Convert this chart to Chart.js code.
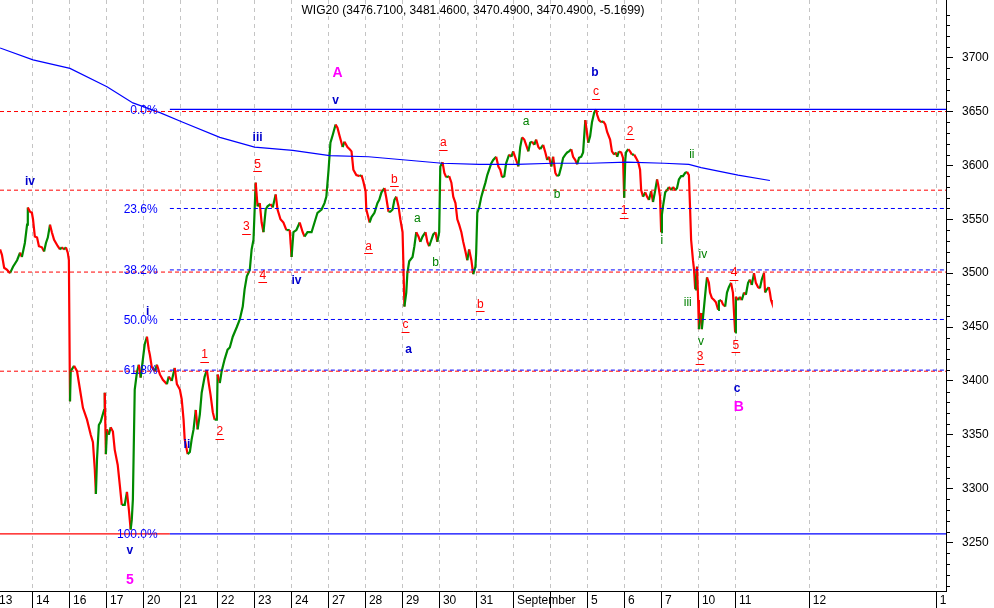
<!DOCTYPE html>
<html><head><meta charset="utf-8">
<script src="https://cdn.jsdelivr.net/npm/chart.js@4.4.0/dist/chart.umd.min.js"></script>
<style>html,body{margin:0;padding:0;background:#fff;overflow:hidden}#wrap{width:994px;height:608px;position:relative}</style>
</head><body><div id="wrap"><canvas id="c" width="994" height="608"></canvas></div>
<script>
// ---- DATA ----
const chartTitle = 'WIG20 (3476.7100, 3481.4600, 3470.4900, 3470.4900, -5.1699)';
// trading-day index (0 = 13 Aug) of each intraday sample
const times = [
0.11,0.16,0.22,0.30,0.38,0.46,0.57,0.65,0.70,0.78,0.84,0.86,0.92,0.97,1.00,
1.05,1.11,1.16,1.24,1.30,1.35,1.40,1.46,1.51,1.57,1.62,1.67,1.73,1.78,1.84,1.89,1.94,1.97,
2.00,2.02,2.11,2.19,2.27,2.35,2.46,2.56,2.62,2.67,2.70,2.73,2.78,2.83,2.92,2.94,2.97,
3.00,3.05,3.10,3.16,3.21,3.29,3.35,3.40,3.48,3.54,3.59,3.64,3.67,3.70,3.75,3.81,3.86,3.91,3.97,
4.02,4.08,4.13,4.16,4.21,4.29,4.35,4.43,4.51,4.62,4.67,4.75,4.83,4.89,4.97,
5.02,5.07,5.10,5.18,5.24,5.29,5.34,5.40,5.45,5.51,5.56,5.64,5.70,5.75,5.80,5.86,5.91,5.97,5.99,
6.05,6.10,6.18,6.26,6.32,6.40,6.51,6.59,6.67,6.72,6.78,6.86,6.91,6.96,
7.02,7.07,7.13,7.18,7.23,7.29,7.34,7.42,7.48,7.56,7.61,7.69,7.77,7.85,7.94,7.99,
8.04,8.12,8.21,8.29,8.34,8.42,8.53,8.61,8.69,8.80,8.88,8.93,8.99,
9.04,9.10,9.18,9.23,9.29,9.37,9.42,9.50,9.56,9.61,9.66,9.74,9.83,9.88,9.93,9.99,
10.01,10.10,10.15,10.23,10.31,10.36,10.42,10.50,10.55,10.61,10.66,10.72,10.77,10.82,10.88,10.93,10.99,
11.01,11.04,11.09,11.12,11.17,11.26,11.31,11.36,11.42,11.47,11.53,11.61,11.66,11.71,11.77,11.82,11.88,11.93,11.98,
12.01,12.07,12.12,12.17,12.25,12.31,12.36,12.42,12.47,12.52,12.58,12.63,12.69,12.74,12.79,12.85,12.90,12.96,12.98,
13.01,13.06,13.12,13.17,13.23,13.28,13.33,13.39,13.44,13.52,13.58,13.63,13.68,13.74,13.79,13.87,13.93,13.98,
14.06,14.12,14.17,14.22,14.28,14.33,14.39,14.44,14.49,14.55,14.60,14.66,14.71,14.79,14.85,14.90,14.95,
15.01,15.06,15.12,15.17,15.22,15.28,15.33,15.39,15.44,15.49,15.55,15.60,15.66,15.71,15.76,15.82,15.87,15.93,
16.01,16.06,16.11,16.17,16.22,16.25,16.30,16.36,16.41,16.47,16.52,16.60,16.65,16.71,16.76,16.79,16.84,16.90,16.95,16.98,
17.01,17.03,17.09,17.14,17.19,17.25,17.30,17.36,17.41,17.44,17.49,17.55,17.60,17.65,17.71,17.76,17.82,17.87,17.90,17.95,17.98,
18.00,18.03,18.09,18.14,18.19,18.25,18.30,18.36,18.41,18.46,18.52,18.57,18.63,18.68,18.73,18.76,18.79,18.84,18.87,18.90,18.92,18.95,18.98,
19.00,19.06,19.08,19.14,19.19,19.22,19.27,19.30,19.35,19.41,19.46,19.52,19.54,19.60,19.65,19.71,19.76,19.81,19.87,19.92,19.95,19.98,
20.00,20.06,20.11,20.16,20.22,20.27,20.33,20.38,20.43,20.49,20.54,20.60,20.65,20.70,20.76,20.79,20.84,20.89,20.92,20.95,20.97
];
const prices = [
3522,3517,3505,3503,3500,3506,3512,3519,3515,3528,3545,3561,3557,3556,3550,
3534,3533,3525,3524,3520,3528,3533,3545,3538,3531,3528,3525,3522,3524,3522,3524,3519,3512,
3381,3409,3414,3409,3392,3375,3364,3350,3343,3318,3295,3327,3359,3362,3373,3389,3332,
3355,3350,3357,3353,3336,3322,3302,3285,3285,3297,3281,3262,3271,3290,3392,3408,3415,3403,3420,
3434,3441,3429,3424,3413,3409,3415,3406,3401,3397,3404,3400,3412,3397,3392,
3383,3364,3346,3332,3334,3346,3355,3373,3355,3369,3389,3404,3410,3398,3387,3371,3364,3364,3406,
3398,3409,3420,3429,3431,3441,3450,3457,3469,3485,3497,3503,3522,3531,
3584,3562,3565,3547,3538,3559,3562,3564,3561,3573,3559,3550,3547,3540,3540,3515,
3538,3540,3547,3538,3534,3538,3538,3547,3556,3559,3565,3571,3596,
3621,3628,3638,3635,3627,3617,3622,3617,3615,3613,3596,3591,3590,3591,3585,3576,
3559,3547,3552,3556,3565,3568,3575,3579,3570,3557,3557,3559,3568,3571,3562,3550,3538,
3512,3469,3482,3500,3511,3515,3525,3538,3534,3529,3534,3538,3529,3525,3531,3536,3538,3529,3538,
3599,3603,3593,3589,3590,3584,3571,3565,3550,3545,3538,3529,3520,3512,3522,3512,3499,3506,3519,
3556,3561,3571,3577,3584,3591,3596,3602,3605,3608,3599,3596,3589,3590,3602,3610,3608,3613,
3605,3599,3617,3626,3624,3619,3613,3621,3622,3619,3624,3617,3615,3619,3612,3605,3608,
3599,3608,3593,3590,3591,3599,3607,3610,3612,3613,3615,3608,3605,3601,3607,3608,3612,3642,
3621,3627,3640,3649,3652,3647,3642,3640,3641,3638,3631,3624,3613,3610,3612,3608,3613,3612,3607,3570,
3605,3612,3615,3613,3610,3610,3607,3603,3596,3577,3571,3575,3571,3568,3576,3566,3577,3587,3582,3571,3538,
3554,3562,3575,3577,3580,3577,3580,3577,3579,3587,3590,3590,3593,3594,3591,3562,3531,3512,3503,3485,3494,3506,3475,
3448,3463,3448,3469,3487,3496,3491,3482,3477,3475,3473,3466,3474,3475,3471,3469,3482,3487,3491,3482,3463,3445,
3478,3475,3478,3475,3482,3480,3491,3494,3489,3500,3491,3487,3486,3494,3500,3482,3485,3487,3482,3475,3473
];
// moving average
const maTimes  = [0.11,1.00,2.00,3.00,3.70,4.43,5.05,6.05,6.99,8.02,9.02,10.07,11.07,12.06,13.06,14.06,15.06,16.06,17.06,18.06,18.73,19.06,20.06,20.92];
const maValues = [3709,3698,3690,3673,3658,3649,3640,3626,3617,3614,3609,3608,3605,3602,3601,3601,3602,3602,3603,3602,3601,3598,3591,3586];
// x-axis day ticks
const dayTickPos    = [0,1,2,3,4,5,6,7,8,9,10,11,12,13,14,15,16,17,18,19,20,22,25.43];
const dayTickLabels = ['13','14','16','17','20','21','22','23','24','27','28','29','30','31','September','','5','6','7','10','11','12','1'];
const yTickValues = [3250,3300,3350,3400,3450,3500,3550,3600,3650,3700];
// Fibonacci retracement
const fibLabels = ['0.0%','23.6%','38.2%','50.0%','61.8%','100.0%'];
const fibValues = [3652,3560,3503,3457,3410,3258];
const fibStartT = 4.70;
const fibLabelT = 4.37;
const redDashLevels = [3650,3577,3501,3409];
const redSolidLevel = 3258;
// Elliott wave annotations
const waveText  = ['iv','i','ii','iii','iv','v','a','b','c','v','A','B','5',
  '1','2','3','4','5','a','b','c','a','b','c','1','2','3','4','5',
  'a','b','a','b','i','ii','iii','iv','v'];
const waveT = [0.92,4.10,5.16,7.07,8.12,9.18,11.15,16.19,20.03,3.62,9.23,20.08,3.62,
  5.64,6.05,6.77,7.21,7.07,10.07,10.77,11.07,12.09,13.09,16.22,16.98,17.14,19.03,19.95,20.00,
  11.39,11.88,14.33,15.17,18.00,18.81,18.70,19.11,19.06];
const waveV = [3585,3464,3341,3626,3493,3660,3429,3686,3393,3242,3686,3376,3215,
  3424,3353,3543,3498,3601,3525,3587,3452,3621,3471,3668,3558,3631,3422,3500,3433,
  3551,3510,3641,3573,3530,3610,3473,3517,3436];
const waveKind = ['blue','blue','blue','blue','blue','blue','blue','blue','blue','blue','mag','mag','mag',
  'red','red','red','red','red','red','red','red','red','red','red','red','red','red','red','red',
  'green','green','green','green','green','green','green','green','green'];

// ---- STYLE ----
const UP = '#008a00', DOWN = '#ff0000', BLUE = '#0000ff';
const X_MIN = 0.108, X_MAX = 25.68;

const datasets = [];
fibValues.forEach((v,i)=>{
  const solid = (i===0 || i===fibValues.length-1);
  datasets.push({data:[{x:fibStartT,y:v},{x:X_MAX,y:v}], borderColor:BLUE, borderWidth:solid?1.3:1, borderDash:solid?[]:[4,3], pointRadius:0});
});
redDashLevels.forEach(v=>{
  datasets.push({data:[{x:X_MIN,y:v},{x:X_MAX,y:v}], borderColor:DOWN, borderWidth:1, borderDash:[4,3], pointRadius:0});
});
datasets.push({data:[{x:X_MIN,y:redSolidLevel},{x:fibStartT,y:redSolidLevel}], borderColor:DOWN, borderWidth:1.3, pointRadius:0});
datasets.push({data:maTimes.map((t,i)=>({x:t,y:maValues[i]})), borderColor:BLUE, borderWidth:1.2, pointRadius:0, tension:0});
datasets.push({data:times.map((t,i)=>({x:t,y:prices[i]})), borderWidth:2.2, pointRadius:0, tension:0,
  borderColor:UP,
  segment:{borderColor:ctx=> ctx.p1.parsed.y >= ctx.p0.parsed.y ? UP : DOWN}});

const decor = {
  id:'decor',
  afterDraw(chart){
    const ctx = chart.ctx, xs = chart.scales.x, ys = chart.scales.y, ca = chart.chartArea;
    ctx.save();
    // minor ticks on right axis
    ctx.strokeStyle = '#000'; ctx.lineWidth = 1;
    for (let v = 3210; v <= 3750; v += 10) {
      if (v % 50 === 0) continue;
      const y = Math.round(ys.getPixelForValue(v)) + 0.5;
      ctx.beginPath(); ctx.moveTo(ca.right, y); ctx.lineTo(ca.right + 4, y); ctx.stroke();
    }
    // title
    ctx.fillStyle = '#000';
    ctx.font = '12px "Liberation Sans Narrow", "Arial Narrow", "Liberation Sans", sans-serif';
    ctx.textAlign = 'center'; ctx.textBaseline = 'middle';
    ctx.fillText(chartTitle, (ca.left + ca.right) / 2, 11);
    // fib labels
    ctx.fillStyle = BLUE; ctx.font = '12px "Liberation Sans", Arial, sans-serif';
    ctx.textAlign = 'right';
    fibLabels.forEach((s,i)=>{
      ctx.fillText(s, xs.getPixelForValue(fibLabelT), ys.getPixelForValue(fibValues[i]) + 1);
    });
    // wave labels
    ctx.textAlign = 'center';
    waveText.forEach((s,i)=>{
      const k = waveKind[i];
      const x = xs.getPixelForValue(waveT[i]), y = ys.getPixelForValue(waveV[i]);
      if (k === 'blue') { ctx.fillStyle = '#0000cc'; ctx.font = 'bold 12px "Liberation Sans", Arial, sans-serif'; }
      else if (k === 'mag') { ctx.fillStyle = '#ff00ff'; ctx.font = 'bold 14px "Liberation Sans", Arial, sans-serif'; }
      else if (k === 'red') { ctx.fillStyle = '#ff0000'; ctx.font = '12px "Liberation Sans", Arial, sans-serif'; }
      else { ctx.fillStyle = '#008000'; ctx.font = '12px "Liberation Sans", Arial, sans-serif'; }
      ctx.fillText(s, x, y);
      if (k === 'red') {
        const w = ctx.measureText(s).width + 2;
        ctx.strokeStyle = '#ff0000'; ctx.lineWidth = 1;
        ctx.beginPath(); ctx.moveTo(x - w/2, Math.round(y + 7) + 0.5); ctx.lineTo(x + w/2, Math.round(y + 7) + 0.5); ctx.stroke();
      }
    });
    ctx.restore();
  }
};

new Chart(document.getElementById('c'), {
  type:'line',
  data:{datasets},
  plugins:[decor],
  options:{
    responsive:false, animation:false, devicePixelRatio:1,
    layout:{padding:0},
    plugins:{legend:{display:false}, tooltip:{enabled:false}, title:{display:false}},
    scales:{
      x:{type:'linear', position:'bottom', min:X_MIN, max:X_MAX,
        afterBuildTicks:(s)=>{ s.ticks = dayTickPos.map(v=>({value:v})); },
        afterFit:(s)=>{ s.height = 17; s.paddingLeft = 0; s.paddingRight = 0; s.paddingTop = 0; s.paddingBottom = 0; },
        grid:{display:true, drawOnChartArea:true, color:'#c4c4c4', lineWidth:1, drawTicks:true, tickLength:17, tickColor:'#000', tickWidth:1, tickBorderDash:[]},
        border:{display:true, color:'#000', width:1, dash:[4,4]},
        ticks:{autoSkip:false, maxRotation:0, minRotation:0, align:'start', labelOffset:3, padding:-15, color:'#000',
          font:{family:'"Liberation Sans", Arial, sans-serif', size:12},
          callback:(v,i)=>dayTickLabels[i]}
      },
      y:{type:'linear', position:'right', min:3205, max:3753.5,
        afterBuildTicks:(s)=>{ s.ticks = yTickValues.map(v=>({value:v})); },
        afterFit:(s)=>{ s.width = 48; s.paddingLeft = 0; s.paddingRight = 0; s.paddingTop = 0; s.paddingBottom = 0; },
        grid:{drawOnChartArea:false, drawTicks:true, tickLength:7, tickColor:'#000'},
        border:{display:true, color:'#000', width:1},
        ticks:{padding:9, color:'#000', font:{family:'"Liberation Sans", Arial, sans-serif', size:12},
          callback:(v)=>String(v)}
      }
    }
  }
});
</script></body></html>
